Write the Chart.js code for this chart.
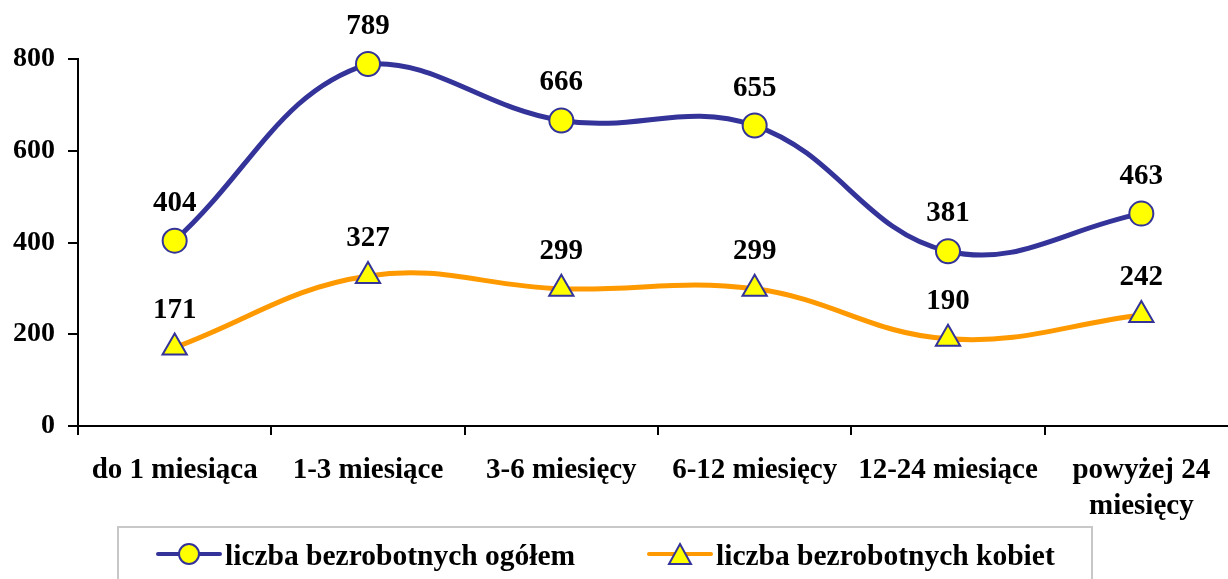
<!DOCTYPE html>
<html>
<head>
<meta charset="utf-8">
<script src="https://cdn.jsdelivr.net/npm/chart.js@4/dist/chart.umd.min.js"></script>
<style>
  html, body { margin: 0; padding: 0; background: #fff; overflow: hidden; width: 1228px; height: 579px; }
  canvas { display: block; }
</style>
</head>
<body>
<canvas id="c" width="1254" height="590"></canvas>
<script>
const categories = ['do 1 miesiąca', '1-3 miesiące', '3-6 miesięcy', '6-12 miesięcy', '12-24 miesiące', ['powyżej 24', 'miesięcy']];
const ogolem = [404, 789, 666, 655, 381, 463];
const kobiety = [171, 327, 299, 299, 190, 242];
const seriesNames = ['liczba bezrobotnych ogółem', 'liczba bezrobotnych kobiet'];
const yTicks = [0, 200, 400, 600, 800];

const FONT = '"Liberation Serif", "Times New Roman", serif';
const BLUE = '#333399';
const ORANGE = '#FF9900';
const YELLOW = '#FFFF00';

const dataLabels = {
  id: 'dataLabels',
  afterDatasetsDraw(chart) {
    const ctx = chart.ctx;
    ctx.save();
    ctx.font = 'bold 29px ' + FONT;
    ctx.fillStyle = '#000';
    ctx.textAlign = 'center';
    ctx.textBaseline = 'alphabetic';
    chart.data.datasets.forEach((ds, i) => {
      const meta = chart.getDatasetMeta(i);
      meta.data.forEach((pt, j) => {
        ctx.fillText(String(ds.data[j]), pt.x, pt.y - 30);
      });
    });
    ctx.restore();
  }
};

const customLegend = {
  id: 'customLegend',
  afterDraw(chart) {
    const ctx = chart.ctx;
    ctx.save();
    ctx.strokeStyle = '#c8c8c8';
    ctx.lineWidth = 2;
    ctx.strokeRect(118, 527, 974, 80);
    const starts = [158, 649];
    const y = 554;
    chart.data.datasets.forEach((ds, i) => {
      const x = starts[i];
      ctx.strokeStyle = ds.borderColor;
      ctx.lineWidth = 4;
      ctx.lineCap = 'round';
      ctx.beginPath();
      ctx.moveTo(x, y);
      ctx.lineTo(x + 62, y);
      ctx.stroke();
      const cx = x + 31;
      ctx.fillStyle = YELLOW;
      ctx.strokeStyle = BLUE;
      ctx.lineWidth = 2;
      ctx.beginPath();
      if (ds.pointStyle === 'circle') {
        ctx.arc(cx, y, 10, 0, Math.PI * 2);
      } else {
        ctx.moveTo(cx, y - 10);
        ctx.lineTo(cx + 11, y + 10);
        ctx.lineTo(cx - 11, y + 10);
        ctx.closePath();
      }
      ctx.fill();
      ctx.stroke();
      ctx.fillStyle = '#000';
      ctx.font = 'bold 29.5px ' + FONT;
      ctx.textAlign = 'left';
      ctx.textBaseline = 'alphabetic';
      ctx.fillText(ds.label, x + 67, 565);
    });
    ctx.restore();
  }
};

new Chart(document.getElementById('c'), {
  type: 'line',
  data: {
    labels: categories,
    datasets: [
      {
        label: seriesNames[0],
        data: ogolem,
        borderColor: BLUE,
        borderWidth: 5,
        tension: 0.4,
        pointStyle: 'circle',
        pointRadius: 12,
        pointBackgroundColor: YELLOW,
        pointBorderColor: BLUE,
        pointBorderWidth: 2,
        clip: false
      },
      {
        label: seriesNames[1],
        data: kobiety,
        borderColor: ORANGE,
        borderWidth: 5,
        tension: 0.4,
        pointStyle: 'triangle',
        pointRadius: 14,
        pointBackgroundColor: YELLOW,
        pointBorderColor: BLUE,
        pointBorderWidth: 2,
        clip: false
      }
    ]
  },
  options: {
    responsive: false,
    animation: false,
    layout: { padding: { top: 59, left: 0, right: 2, bottom: 0 } },
    plugins: {
      legend: { display: false },
      tooltip: { enabled: false }
    },
    scales: {
      x: {
        type: 'category',
        offset: true,
        grid: { offset: true, drawOnChartArea: false, tickLength: 9, color: '#000', lineWidth: 2 },
        border: { color: '#000', width: 2 },
        ticks: {
          autoSkip: false, maxRotation: 0, minRotation: 0,
          color: '#000', padding: 17,
          font: { family: FONT, size: 29, weight: 'bold', lineHeight: 1.25 }
        },
        afterFit(scale) { scale.height = 164; }
      },
      y: {
        min: 0, max: 800,
        afterBuildTicks(scale) { scale.ticks = yTicks.map(v => ({ value: v })); },
        grid: { drawOnChartArea: false, tickLength: 10, color: '#000', lineWidth: 2 },
        border: { color: '#000', width: 2 },
        ticks: {
          color: '#000', padding: 13,
          font: { family: FONT, size: 28, weight: 'bold' }
        },
        afterFit(scale) { scale.width = 78; }
      }
    }
  },
  plugins: [dataLabels, customLegend]
});
</script>
</body>
</html>
